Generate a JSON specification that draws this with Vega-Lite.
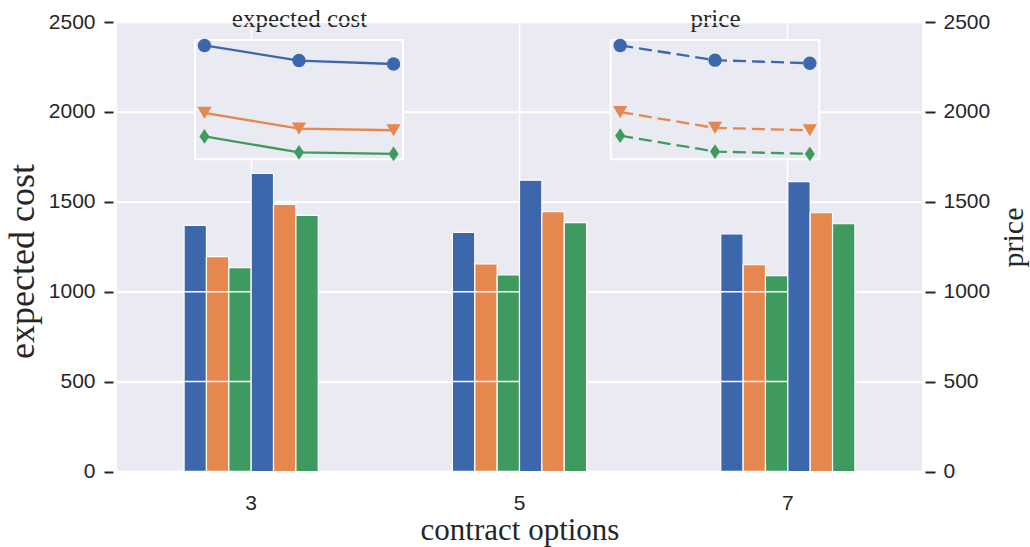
{
  "$schema": "https://vega.github.io/schema/vega-lite/v6.json",
  "autosize": {"type": "none"},
  "width": 805,
  "height": 449.5,
  "padding": {"left": 117, "top": 22, "right": 108, "bottom": 75.5},
  "background": "white",
  "config": {
    "font": "Liberation Sans",
    "view": {"fill": "#EAEAF2", "stroke": null}
  },
  "datasets": {
    "bars": [
      {"option": 3, "measure": "cost", "group": "g1", "bar": "cost-1", "value": 1369},
      {"option": 3, "measure": "cost", "group": "g2", "bar": "cost-2", "value": 1195},
      {"option": 3, "measure": "cost", "group": "g3", "bar": "cost-3", "value": 1134},
      {"option": 5, "measure": "cost", "group": "g1", "bar": "cost-1", "value": 1330},
      {"option": 5, "measure": "cost", "group": "g2", "bar": "cost-2", "value": 1154},
      {"option": 5, "measure": "cost", "group": "g3", "bar": "cost-3", "value": 1093},
      {"option": 7, "measure": "cost", "group": "g1", "bar": "cost-1", "value": 1321},
      {"option": 7, "measure": "cost", "group": "g2", "bar": "cost-2", "value": 1150},
      {"option": 7, "measure": "cost", "group": "g3", "bar": "cost-3", "value": 1089},
      {"option": 3, "measure": "price", "group": "g1", "bar": "price-1", "value": 1658},
      {"option": 3, "measure": "price", "group": "g2", "bar": "price-2", "value": 1486},
      {"option": 3, "measure": "price", "group": "g3", "bar": "price-3", "value": 1425},
      {"option": 5, "measure": "price", "group": "g1", "bar": "price-1", "value": 1620},
      {"option": 5, "measure": "price", "group": "g2", "bar": "price-2", "value": 1445},
      {"option": 5, "measure": "price", "group": "g3", "bar": "price-3", "value": 1384},
      {"option": 7, "measure": "price", "group": "g1", "bar": "price-1", "value": 1612},
      {"option": 7, "measure": "price", "group": "g2", "bar": "price-2", "value": 1439},
      {"option": 7, "measure": "price", "group": "g3", "bar": "price-3", "value": 1378}
    ]
  },
  "data": {"name": "bars"},
  "layer": [
    {
      "layer": [
        {
          "transform": [{"filter": "datum.measure === 'cost'"}],
          "mark": {"type": "bar", "stroke": "white", "strokeWidth": 1.2},
          "encoding": {
            "x": {
              "field": "option", "type": "ordinal",
              "scale": {"paddingInner": 0.5, "paddingOuter": 0.25},
              "axis": {
                "title": "contract options", "labelAngle": 0, "bandPosition": 0.5,
                "grid": true, "gridColor": "white", "gridWidth": 1.5,
                "ticks": false, "tickSize": 0, "domain": false,
                "labelFont": "Liberation Sans", "labelFontSize": 21, "labelColor": "#262626",
                "labelPadding": 37.5, "labelBaseline": "alphabetic",
                "titleFont": "Liberation Serif", "titleFontSize": 31, "titleFontWeight": "normal",
                "titleColor": "#262626", "titleBaseline": "alphabetic", "titleY": 68
              }
            },
            "xOffset": {
              "field": "bar", "type": "nominal",
              "scale": {"domain": ["cost-1", "cost-2", "cost-3", "price-1", "price-2", "price-3"], "paddingInner": 0, "paddingOuter": 0}
            },
            "y": {
              "field": "value", "type": "quantitative",
              "scale": {"domain": [0, 2500]},
              "axis": {
                "orient": "left", "values": [0, 500, 1000, 1500, 2000, 2500], "format": "d",
                "grid": true, "gridColor": "white", "gridWidth": 1.5,
                "domain": false, "ticks": true, "tickSize": 9, "tickWidth": 2, "tickColor": "#262626",
                "offset": 4,
                "labelFont": "Liberation Sans", "labelFontSize": 21, "labelColor": "#262626", "labelPadding": 9,
                "title": "expected cost", "titleFont": "Liberation Serif", "titleFontSize": 36,
                "titleFontWeight": "normal", "titleColor": "#262626", "titleAngle": 270,
                "titleBaseline": "alphabetic", "titleAlign": "center", "titleX": -80, "titleY": 239
              }
            },
            "color": {
              "field": "group", "type": "nominal",
              "scale": {"domain": ["g1", "g2", "g3"], "range": ["#3D67AC", "#E5874F", "#3F9A5F"]},
              "legend": null
            }
          }
        },
        {
          "data": {"values": [{"level": 0}, {"level": 500}, {"level": 1000}, {"level": 1500}, {"level": 2000}, {"level": 2500}]},
          "mark": {"type": "rule", "color": "white", "strokeWidth": 1.5},
          "encoding": {
            "y": {"field": "level", "type": "quantitative", "scale": {"domain": [0, 2500]}, "axis": null}
          }
        },
        {
          "transform": [{"filter": "datum.measure === 'price'"}],
          "mark": {"type": "bar", "stroke": "white", "strokeWidth": 1.2},
          "encoding": {
            "x": {"field": "option", "type": "ordinal"},
            "xOffset": {"field": "bar", "type": "nominal"},
            "y": {
              "field": "value", "type": "quantitative",
              "scale": {"domain": [0, 2500]},
              "axis": {
                "orient": "right", "values": [0, 500, 1000, 1500, 2000, 2500], "format": "d",
                "grid": false, "domain": false, "ticks": true, "tickSize": 10, "tickWidth": 2,
                "tickColor": "#262626", "offset": 3,
                "labelFont": "Liberation Sans", "labelFontSize": 21, "labelColor": "#262626", "labelPadding": 8,
                "title": "price", "titleFont": "Liberation Serif", "titleFontSize": 30,
                "titleFontWeight": "normal", "titleColor": "#262626", "titleAngle": 270,
                "titleBaseline": "alphabetic", "titleAlign": "center", "titleX": 97, "titleY": 215
              }
            },
            "color": {"field": "group", "type": "nominal", "legend": null}
          }
        }
      ],
      "resolve": {"scale": {"y": "independent"}}
    },
    {
      "layer": [
        {
          "transform": [{"filter": "datum.measure === 'cost' && datum.option === 3 && datum.group === 'g1'"}],
          "mark": {"type": "rect", "fill": "#EAEAF2", "stroke": "white", "strokeWidth": 2},
          "encoding": {
            "x": {"datum": 2.8, "type": "quantitative", "scale": {"domain": [2.8, 7.2], "range": [78, 286], "zero": false, "nice": false},
              "axis": {
                "orient": "top", "title": "expected cost", "labels": false, "ticks": false, "domain": false, "grid": false,
                "titleFont": "Liberation Serif", "titleFontSize": 25, "titleFontWeight": "normal", "titleColor": "#262626",
                "titleBaseline": "alphabetic", "titleY": 4.7
              }},
            "x2": {"datum": 7.2},
            "y": {"datum": 1075, "type": "quantitative", "scale": {"domain": [1075, 1383], "range": [137.3, 18], "zero": false, "nice": false}, "axis": null},
            "y2": {"datum": 1383}
          }
        },
        {
          "transform": [{"filter": "datum.measure === 'cost'"}],
          "mark": {"type": "line", "strokeWidth": 2.3},
          "encoding": {
            "x": {"field": "option", "type": "quantitative"},
            "y": {"field": "value", "type": "quantitative"},
            "color": {"field": "group", "type": "nominal", "legend": null}
          }
        },
        {
          "transform": [{"filter": "datum.measure === 'cost'"}],
          "mark": {"type": "point", "filled": true, "opacity": 1, "strokeWidth": 0},
          "encoding": {
            "x": {"field": "option", "type": "quantitative"},
            "y": {"field": "value", "type": "quantitative"},
            "color": {"field": "group", "type": "nominal", "legend": null},
            "shape": {"field": "group", "type": "nominal", "scale": {"domain": ["g1", "g2", "g3"], "range": ["circle", "triangle-down", "M0,-1L0.68,0L0,1L-0.68,0Z"]}, "legend": null},
            "size": {"field": "group", "type": "ordinal", "scale": {"domain": ["g1", "g2", "g3"], "range": [180, 220, 285]}, "legend": null}
          }
        }
      ]
    },
    {
      "layer": [
        {
          "transform": [{"filter": "datum.measure === 'price' && datum.option === 3 && datum.group === 'g1'"}],
          "mark": {"type": "rect", "fill": "#EAEAF2", "stroke": "white", "strokeWidth": 2},
          "encoding": {
            "x": {"datum": 2.8, "type": "quantitative", "scale": {"domain": [2.8, 7.2], "range": [493.7, 702.3], "zero": false, "nice": false},
              "axis": {
                "orient": "top", "title": "price", "labels": false, "ticks": false, "domain": false, "grid": false,
                "titleFont": "Liberation Serif", "titleFontSize": 25, "titleFontWeight": "normal", "titleColor": "#262626",
                "titleBaseline": "alphabetic", "titleY": 4.7
              }},
            "x2": {"datum": 7.2},
            "y": {"datum": 1364, "type": "quantitative", "scale": {"domain": [1364, 1672], "range": [137.3, 18], "zero": false, "nice": false}, "axis": null},
            "y2": {"datum": 1672}
          }
        },
        {
          "transform": [{"filter": "datum.measure === 'price'"}],
          "mark": {"type": "line", "strokeWidth": 2.3, "strokeDash": [13, 6]},
          "encoding": {
            "x": {"field": "option", "type": "quantitative"},
            "y": {"field": "value", "type": "quantitative"},
            "color": {"field": "group", "type": "nominal", "legend": null}
          }
        },
        {
          "transform": [{"filter": "datum.measure === 'price'"}],
          "mark": {"type": "point", "filled": true, "opacity": 1, "strokeWidth": 0},
          "encoding": {
            "x": {"field": "option", "type": "quantitative"},
            "y": {"field": "value", "type": "quantitative"},
            "color": {"field": "group", "type": "nominal", "legend": null},
            "shape": {"field": "group", "type": "nominal", "legend": null},
            "size": {"field": "group", "type": "ordinal", "legend": null}
          }
        }
      ]
    }
  ],
  "resolve": {"scale": {"x": "independent", "y": "independent"}}
}
